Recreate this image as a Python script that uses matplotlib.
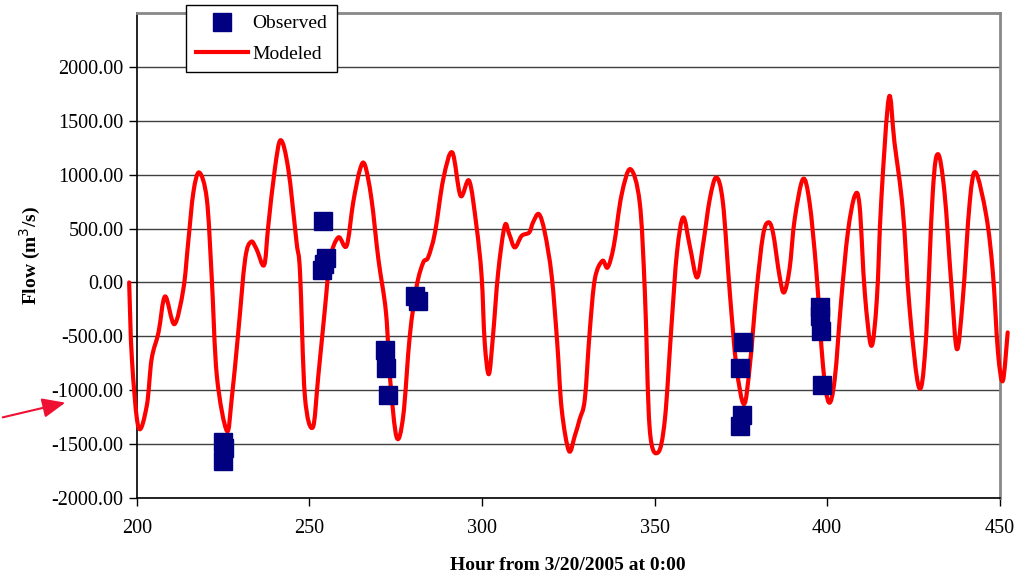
import matplotlib
matplotlib.use("Agg")
import matplotlib.pyplot as plt
from matplotlib.path import Path
from matplotlib.patches import PathPatch, FancyArrowPatch
from matplotlib.lines import Line2D

plt.rcParams["font.family"] = ["Liberation Serif", "DejaVu Serif"]

# modeled flow (hour, m3/s)
model_hour = [197.8, 198.6, 200.5, 202.9, 204.3, 206.3, 208.2, 210.9, 213.5, 214.9,
              216.4, 218.1, 220.3, 221.7, 223.2, 226.1, 227.5, 229.4, 231.4, 233.1,
              234.7, 236.9, 238.1, 240.0, 241.7, 243.9, 246.3, 247.3, 248.7, 251.0,
              252.6, 254.5, 256.0, 258.4, 260.8, 262.7, 264.7, 266.1, 268.0, 270.0,
              272.2, 273.4, 275.3, 277.2, 279.1, 281.1, 283.0, 284.4, 286.4, 288.8,
              291.4, 293.8, 296.3, 298.4, 299.9, 300.8, 302.0, 303.2, 304.7, 306.6,
              307.9, 309.5, 311.5, 313.7, 314.8, 316.5, 318.2, 320.2, 321.8, 323.1,
              325.2, 326.9, 328.3, 329.8, 331.2, 332.7, 334.9, 336.4, 338.2, 340.4,
              343.0, 345.7, 347.2, 348.6, 351.0, 353.0, 354.9, 356.5, 358.3, 360.2,
              362.3, 364.0, 366.0, 367.9, 369.8, 371.8, 373.7, 375.9, 377.6, 379.5,
              381.4, 382.9, 384.3, 386.2, 387.5, 389.1, 390.6, 393.0, 394.9, 396.9,
              398.8, 400.5, 402.2, 404.1, 406.0, 408.0, 409.4, 410.9, 412.8, 414.4,
              415.7, 417.9, 419.5, 421.9, 423.9, 426.6, 428.5, 430.6, 432.1, 434.0,
              436.0, 437.6, 439.3, 441.3, 443.0, 446.1, 448.0, 449.5, 450.9, 452.3]
model_flow = [0, -712, -1345, -1145, -712, -464, -130, -387, -62, 371,
              835, 1020, 773, 61, -866, -1377, -1083, -464, 216, 377,
              309, 161, 525, 1051, 1320, 1051, 371, 93, -1052, -1345,
              -866, -248, 216, 418, 340, 742, 1051, 1089, 773, 216,
              -278, -897, -1438, -1238, -495, -32, 186, 232, 464, 959,
              1206, 804, 943, 525, 61, -557, -851, -495, 93, 525,
              448, 325, 432, 464, 557, 634, 464, 61, -557, -1176,
              -1563, -1423, -1269, -1083, -464, 31, 200, 139, 340, 804,
              1051, 742, -93, -1361, -1578, -1269, -403, 278, 603, 340,
              46, 340, 773, 974, 742, -93, -774, -1129, -774, -93,
              432, 557, 464, 61, -93, 123, 587, 959, 742, 93,
              -774, -1113, -897, -155, 464, 804, 711, -93, -588, -155,
              773, 1717, 1299, 680, -248, -974, -588, 835, 1190, 835,
              -31, -619, -155, 742, 1021, 618, 93, -650, -913, -464]

# observed flow
obs_hour = [224.9, 225.2, 225.0, 254.0, 254.8, 253.8, 254.3, 272.0, 272.3, 272.8,
            280.6, 281.5, 375.5, 374.7, 375.2, 374.9, 397.8, 398.0, 398.3, 398.5]
obs_flow = [-1480, -1540, -1660, 572, 223, 117, 170, -625, -798, -1043,
            -130, -170, -551, -795, -1231, -1336, -232, -310, -449, -950]

RED = "#ff0000"
NAVY = "#000080"


def smooth_path(xs, ys):
    # Excel-style smoothed line: cubic Bezier segments through every point
    pts = list(zip(xs, ys))
    verts = [pts[0]]
    codes = [Path.MOVETO]
    n = len(pts)
    for i in range(n - 1):
        p0 = pts[max(i - 1, 0)]
        p1 = pts[i]
        p2 = pts[i + 1]
        p3 = pts[min(i + 2, n - 1)]
        c1 = (p1[0] + (p2[0] - p0[0]) / 6, p1[1] + (p2[1] - p0[1]) / 6)
        c2 = (p2[0] - (p3[0] - p1[0]) / 6, p2[1] - (p3[1] - p1[1]) / 6)
        verts += [c1, c2, p2]
        codes += [Path.CURVE4] * 3
    return Path(verts, codes)


fig = plt.figure(figsize=(10.36, 5.74), dpi=100)
ax = fig.add_axes([0.132, 0.1324, 0.833, 0.845])

ax.plot(obs_hour, obs_flow, "s", color=NAVY, ms=13, ls="none", zorder=4)
ax.add_patch(PathPatch(smooth_path(model_hour, model_flow), fc="none", ec=RED, lw=3,
                       zorder=3, clip_on=False, capstyle="round", joinstyle="round"))

ax.set_xlim(200, 450)
ax.set_ylim(-2000, 2500)
ax.set_xticks(range(200, 451, 50))
ax.set_yticks(range(-2000, 2001, 500))
ax.set_yticklabels([f"{v:.2f}" for v in range(-2000, 2001, 500)])
ax.tick_params(labelsize=14.5, direction="out", length=6, width=1, colors="black")
ax.tick_params(axis="x", pad=9)
ax.grid(axis="y", color="#404040", lw=1)
ax.set_axisbelow(True)

for s in ("top", "right"):
    ax.spines[s].set_color("#888888")
    ax.spines[s].set_linewidth(2)
for s in ("left", "bottom"):
    ax.spines[s].set_color("black")
    ax.spines[s].set_linewidth(1.2)

ax.set_ylabel("Flow (m$^3$/s)", fontsize=14, fontweight="bold", labelpad=6)
ax.set_xlabel("Hour from 3/20/2005 at 0:00", fontsize=14, fontweight="bold", labelpad=14)

handles = [Line2D([], [], marker="s", color=NAVY, ms=13, ls="none"),
           Line2D([], [], color=RED, lw=3)]
leg = ax.legend(handles, ["Observed", "Modeled"], loc="upper left",
                bbox_to_anchor=(186 / 1036, 1 - 5 / 574),
                bbox_transform=fig.transFigure, fontsize=14, frameon=True,
                fancybox=False, framealpha=1, edgecolor="black", borderaxespad=0,
                handlelength=2.7, labelspacing=0.65, borderpad=0.5, handletextpad=0.2)
leg.get_frame().set_linewidth(1)

# arrow pointing at the -1000 label
fig.add_artist(FancyArrowPatch(
    (0, 1 - 418 / 574), (68 / 1036, 1 - 402 / 574), transform=fig.transFigure,
    arrowstyle="-|>,head_length=14,head_width=6", color="#ee1133", lw=1.5))

fig.savefig("out.png", dpi=100)
